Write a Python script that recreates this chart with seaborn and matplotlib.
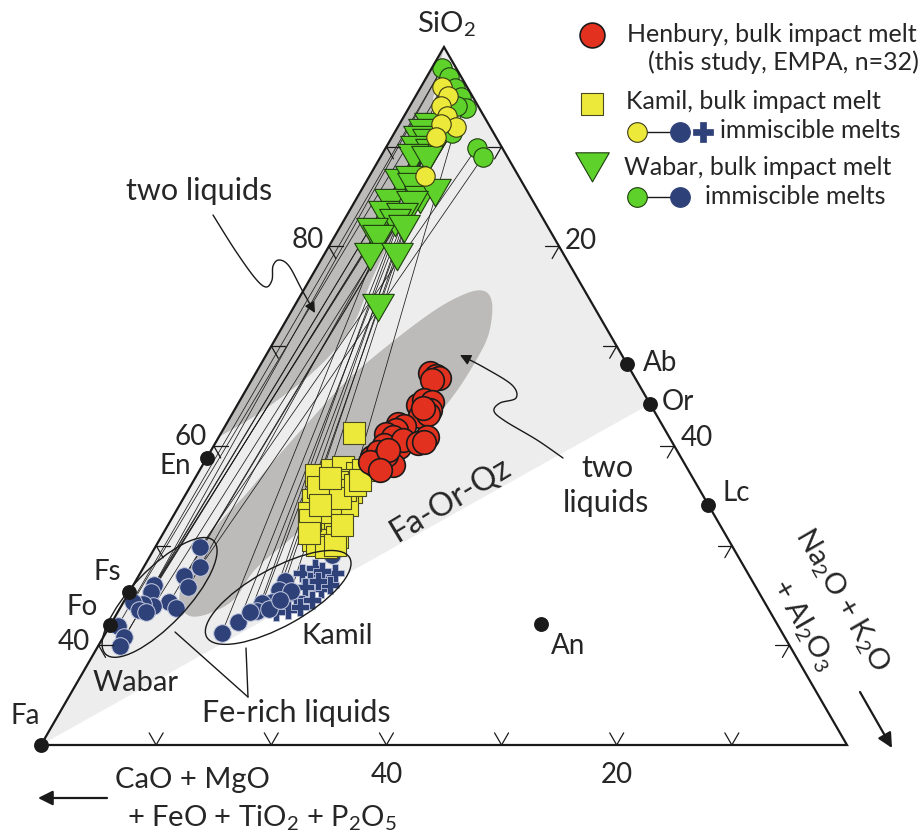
import numpy as np
import pandas as pd
import matplotlib
matplotlib.use("Agg")
import matplotlib.pyplot as plt
import seaborn as sns
from matplotlib.path import Path
from matplotlib.markers import MarkerStyle
from matplotlib.patches import Polygon, Ellipse

# ---------------- data: wt% SiO2 and wt% (Na2O+K2O+Al2O3) ----------------
henbury_sio2 = [67.3, 67.0, 66.8, 66.6, 64.1, 64.6, 64.4, 63.6, 63.0, 63.2, 63.8,
                62.2, 62.0, 61.6, 61.2, 60.4, 59.9, 60.9, 60.1, 60.6, 60.9, 60.3,
                60.4, 58.9, 58.1, 58.4, 58.1, 59.4, 59.1, 58.4, 59.6, 57.6]
henbury_alk = [15.1, 15.8, 16.2, 15.7, 15.7, 16.0, 16.8, 17.0, 16.4, 17.0, 16.3,
               14.9, 15.5, 15.0, 14.4, 15.1, 16.1, 15.1, 14.7, 16.1, 18.1, 17.6,
               18.1, 14.3, 15.0, 15.4, 16.5, 14.6, 15.4, 14.4, 15.3, 15.6]

kamil_sio2 = [61.3, 57.1, 57.6, 57.9, 57.3, 57.6, 56.6, 55.4, 56.4, 55.6, 54.6, 54.4,
              52.9, 53.3, 51.9, 51.6, 51.9, 50.6, 54.1, 53.3, 50.6, 50.9, 55.9, 55.6,
              53.4, 50.1, 49.9, 54.8, 56.1, 52.6, 54.1, 50.1, 56.6, 52.1, 51.3, 56.8]
kamil_alk = [11.5, 10.3, 11.5, 12.3, 13.8, 14.2, 13.6, 14.2, 12.5, 12.1, 11.3, 13.1,
             13.0, 14.3, 12.6, 13.7, 14.6, 13.3, 14.5, 11.6, 14.6, 15.3, 11.1, 13.6,
             13.4, 13.9, 14.8, 13.6, 14.2, 12.1, 12.2, 15.5, 14.4, 15.1, 12.6, 11.7]

wabar_sio2 = [92.5, 91.9, 91.2, 90.9, 90.2, 89.9, 89.4, 89.2, 86.9, 87.2, 86.5, 85.2,
              85.9, 84.9, 84.7, 83.7, 83.5, 82.9, 82.2, 81.9, 81.2, 79.4, 79.4, 74.3]
wabar_alk = [2.5, 2.3, 2.2, 3.2, 2.5, 3.9, 2.6, 3.9, 2.7, 3.5, 4.1, 5.3,
             6.3, 2.9, 4.9, 2.9, 4.6, 4.3, 5.4, 2.8, 3.7, 3.9, 6.2, 7.1]

# immiscible melts: Si-rich
wabar_si_sio2 = [97.9, 97.0, 95.9, 95.0, 93.9, 94.1, 91.4, 89.9, 89.0, 92.5]
wabar_si_alk = [0.9, 1.9, 3.0, 4.0, 5.0, 4.1, 5.0, 7.9, 8.9, 3.8]
kamil_si_sio2 = [96.0, 95.1, 94.1, 93.1, 92.0, 92.3, 91.0, 87.1]
kamil_si_alk = [1.8, 2.8, 2.7, 3.7, 5.0, 3.6, 3.8, 4.8]

# immiscible melts: Fe-rich
wabar_fe_sio2 = [49.9, 47.9, 46.9, 45.8, 44.3, 43.7, 46.0, 45.3, 43.9, 44.1, 44.3,
                 43.5, 41.9, 40.8, 39.9, 43.3]
wabar_fe_alk = [3.9, 4.9, 4.0, 4.9, 4.0, 4.9, 1.8, 1.9, 2.8, 1.8, 0.8, 1.8, 0.7,
                1.8, 1.9, 2.5]
kamil_fe_sio2 = [49.1, 46.4, 45.5, 45.4, 44.3, 44.2, 43.4, 43.6, 42.3, 41.2, 43.3, 44.5]
kamil_fe_alk = [15.7, 13.0, 12.9, 14.0, 12.9, 12.1, 12.1, 13.0, 11.0, 10.1, 11.5, 13.5]
kamil_cross_sio2 = [47.2, 47.8, 46.4, 46.8, 47.2, 45.6, 45.8, 44.7, 44.5, 43.5, 43.3,
                    43.8, 47.4, 46.0, 46.4]
kamil_cross_alk = [14.1, 14.9, 15.2, 16.4, 16.9, 16.5, 15.0, 14.8, 16.3, 14.7, 13.8,
                   15.6, 15.7, 17.1, 15.9]

# tie lines (Si-rich index, Fe-rich index)
wabar_ties = [(0, 12), (1, 10), (2, 6), (3, 7), (4, 2), (5, 9), (6, 4), (7, 0),
              (8, 1), (9, 13), (0, 14), (2, 11), (5, 3), (6, 8)]
kamil_ties = [(0, 9), (1, 8), (2, 6), (3, 5), (4, 0), (5, 10), (6, 1), (7, 3),
              (1, 4), (3, 2)]

# reference minerals
mineral_names = ["Fa", "Fo", "Fs", "En", "Ab", "Or", "Lc", "An"]
mineral_sio2 = [30.0, 42.0, 45.3, 58.8, 68.2, 64.2, 54.1, 42.1]
mineral_alk = [0.0, 0.0, 0.0, 0.0, 31.8, 35.8, 45.9, 37.4]

# fields
light_sio2 = [30.0, 64.2, 100.0]
light_alk = [0.0, 35.8, 0.0]
band_sio2 = [100.0, 96.7, 89.7, 84.7, 80.7, 76.6, 72.6, 69.6, 67.1, 65.1, 62.9, 60.9]
band_alk = [0.0, 1.0, 3.4, 4.5, 5.0, 5.4, 6.0, 5.7, 4.8, 3.6, 2.0, 0.0]
blob_sio2 = [73.6, 71.1, 68.8, 65.9, 63.3, 60.6, 58.1, 55.6, 53.3, 50.6, 47.6, 44.7,
             43.3, 42.9, 44.0, 46.0, 48.6, 52.1, 55.1, 58.6, 62.6, 66.8, 70.6, 73.6,
             75.1, 75.6, 75.1]
blob_alk = [17.4, 18.3, 18.5, 18.4, 18.0, 17.4, 15.8, 14.1, 12.6, 11.3, 9.8, 9.5,
            8.2, 6.6, 5.1, 4.2, 4.1, 4.3, 5.2, 6.0, 7.1, 8.4, 10.4, 12.4, 14.0, 15.3, 16.4]

# group ellipses (centre SiO2, centre alk, length, width, angle)
wabar_ell = (44.8, 2.9, 13.6, 4.8, 46.5)
kamil_ell = (44.8, 13.2, 14.2, 5.0, 29.0)

# axes ticks
sio2_ticks = [40, 50, 60, 70, 80, 90]
alk_ticks = [10, 20, 30, 40, 50, 60]
cmf_ticks = [10, 20, 30, 40, 50, 60]

# ---------------- styling ----------------
sns.set_theme(style="white")
plt.rcParams['font.family'] = ['Lato', 'DejaVu Sans']
plt.rcParams['mathtext.fontset'] = 'custom'
plt.rcParams['mathtext.rm'] = 'Lato'
plt.rcParams['mathtext.it'] = 'Lato:italic'
plt.rcParams['mathtext.bf'] = 'Lato:bold'

RED, YEL, GRN, BLU = '#e2321f', '#ece93b', '#5ed12b', '#2f4179'
LIGHT, DARK = '#ecedec', '#bcbbba'

SQ3 = np.sqrt(3) / 2


def tern(s, a):
    s = np.asarray(s, float)
    a = np.asarray(a, float)
    return a + s / 2, s * SQ3


fig = plt.figure(figsize=(9.21, 8.32), dpi=100)
fig.patch.set_facecolor('white')
ax = fig.add_axes([0, 0, 1, 1])
K = 11.514
X0 = 15 - 41 / K
Y0 = 30 * SQ3 - 87 / K
ax.set_xlim(X0, X0 + 921 / K)
ax.set_ylim(Y0, Y0 + 832 / K)
ax.axis('off')


def PX(px, py):
    return X0 + px / K, Y0 + (832 - py) / K


def catmull(pts, n=16, closed=False):
    pts = np.asarray(pts, float)
    if closed:
        P = np.vstack([pts[-1], pts, pts[0], pts[1]])
        rng = range(1, len(pts) + 1)
    else:
        P = np.vstack([pts[0], pts, pts[-1]])
        rng = range(1, len(P) - 2)
    out = []
    t = np.linspace(0, 1, n, endpoint=False)[:, None]
    for i in rng:
        p0, p1, p2, p3 = P[i - 1], P[i], P[i + 1], P[i + 2]
        out.append(0.5 * ((2 * p1) + (-p0 + p2) * t + (2 * p0 - 5 * p1 + 4 * p2 - p3) * t ** 2
                          + (-p0 + 3 * p1 - 3 * p2 + p3) * t ** 3))
    if not closed:
        out.append(P[-2][None, :])
    return np.vstack(out)


# fields
lx, ly = tern(light_sio2, light_alk)
ax.add_patch(Polygon(np.c_[lx, ly], closed=True, fc=LIGHT, ec='none', zorder=1))
bx, by = tern(band_sio2, band_alk)
ax.add_patch(Polygon(catmull(np.c_[bx, by]), closed=True, fc=DARK, ec='none', zorder=2))
gx, gy = tern(blob_sio2, blob_alk)
ax.add_patch(Polygon(catmull(np.c_[gx, gy], closed=True), closed=True, fc=DARK, ec='none', zorder=2))

# tie lines
wsx, wsy = tern(wabar_si_sio2, wabar_si_alk)
wfx, wfy = tern(wabar_fe_sio2, wabar_fe_alk)
ksx, ksy = tern(kamil_si_sio2, kamil_si_alk)
kfx, kfy = tern(kamil_fe_sio2, kamil_fe_alk)
for i, j in wabar_ties:
    ax.plot([wsx[i], wfx[j]], [wsy[i], wfy[j]], color='k', lw=0.55, zorder=3)
for i, j in kamil_ties:
    ax.plot([ksx[i], kfx[j]], [ksy[i], kfy[j]], color='k', lw=0.55, zorder=3)


def sc(x, y, **kw):
    sns.scatterplot(x=np.asarray(x), y=np.asarray(y), ax=ax, legend=False, **kw)


tri = MarkerStyle(Path([(-1, 0.57735), (1, 0.57735), (0, -1.1547), (-1, 0.57735)], closed=True))

cx, cy = tern(kamil_cross_sio2, kamil_cross_alk)
sc(cx, cy, marker='P', s=165, color=BLU, edgecolor='#b9c0da', linewidth=0.6, zorder=4)
sc(kfx, kfy, marker='o', s=160, color=BLU, edgecolor='#c5cbe0', linewidth=0.7, zorder=4)
sc(wfx, wfy, marker='o', s=160, color=BLU, edgecolor='#c5cbe0', linewidth=0.7, zorder=4)

x, y = tern(kamil_sio2, kamil_alk)
sc(x, y, marker='s', s=260, color=YEL, edgecolor='#4a4a20', linewidth=0.8, zorder=5)
x, y = tern(henbury_sio2, henbury_alk)
sc(x, y, marker='o', s=290, color=RED, edgecolor='k', linewidth=1.2, zorder=6)
x, y = tern(wabar_sio2, wabar_alk)
sc(x, y, marker=tri, s=690, color=GRN, edgecolor='#1f3d10', linewidth=0.8, zorder=7)
sc(wsx, wsy, marker='o', s=195, color=GRN, edgecolor='#1f3d10', linewidth=0.8, zorder=8)
sc(ksx, ksy, marker='o', s=195, color=YEL, edgecolor='#3a3a15', linewidth=0.8, zorder=9)

# group ellipses
for (s0, a0, L, W, ang) in (wabar_ell, kamil_ell):
    ex, ey = tern(s0, a0)
    ax.add_patch(Ellipse((float(ex), float(ey)), L, W, angle=ang, fc='none', ec='k', lw=1.0, zorder=10))

# triangle frame
fx, fy = tern([30, 100, 30, 30], [0, 0, 70, 0])
ax.plot(fx, fy, color='k', lw=1.6, zorder=11, solid_joinstyle='miter')

# ticks
TL = 14 / K
for s in sio2_ticks:
    x0, y0 = tern(s, 0)
    ax.plot([x0, x0 + TL], [y0, y0], color='k', lw=0.9, zorder=11)
    ax.plot([x0, x0 + TL * 0.5], [y0, y0 - TL * SQ3], color='k', lw=0.9, zorder=11)
for a in alk_ticks:
    x0, y0 = tern(100 - a, a)
    ax.plot([x0, x0 - TL], [y0, y0], color='k', lw=0.9, zorder=11)
    ax.plot([x0, x0 - TL * 0.5], [y0, y0 - TL * SQ3], color='k', lw=0.9, zorder=11)
for b in cmf_ticks:
    x0, y0 = tern(30, 70 - b)
    ax.plot([x0, x0 - TL * 0.5], [y0, y0 + TL * SQ3], color='k', lw=0.9, zorder=11)
    ax.plot([x0, x0 + TL * 0.5], [y0, y0 + TL * SQ3], color='k', lw=0.9, zorder=11)

# mineral points
mx, my = tern(mineral_sio2, mineral_alk)
sc(mx, my, marker='o', s=115, color='k', edgecolor='k', linewidth=0, zorder=12)

FS_T = 20
mineral_label_px = [(25, 716), (82, 607), (107, 572), (175, 466), (660, 363), (678, 402),
                    (736, 493), (568, 646)]
for name, (px, py) in zip(mineral_names, mineral_label_px):
    ax.text(*PX(px, py), name, fontsize=FS_T, ha='center', va='center', zorder=13)

# tick labels
for v, (px, py) in zip([40, 60, 80], [(74, 642), (191, 437), (308, 240)]):
    ax.text(*PX(px, py), str(v), fontsize=FS_T, ha='center', va='center')
for v, (px, py) in zip([20, 40], [(581, 241), (697, 438)]):
    ax.text(*PX(px, py), str(v), fontsize=FS_T, ha='center', va='center')
for v, (px, py) in zip([40, 20], [(387, 775), (617, 775)]):
    ax.text(*PX(px, py), str(v), fontsize=FS_T, ha='center', va='center')

# axis titles
FS_L = 21
ax.text(*PX(446, 24), 'SiO$_2$', fontsize=FS_L, ha='center', va='center')
ax.text(*PX(192, 780), 'CaO + MgO', fontsize=FS_L, ha='center', va='center')
ax.text(*PX(262, 818), '+ FeO + TiO$_2$ + P$_2$O$_5$', fontsize=FS_L, ha='center', va='center')
ax.annotate('', xy=PX(38, 798), xytext=PX(107, 798),
            arrowprops=dict(arrowstyle='-|>', color='k', lw=1.6, mutation_scale=22,
                            shrinkA=0, shrinkB=0))
ax.text(*PX(842, 600), 'Na$_2$O + K$_2$O', fontsize=FS_L, ha='center', va='center',
        rotation=-60, rotation_mode='anchor')
ax.text(*PX(803, 625), '+ Al$_2$O$_3$', fontsize=FS_L, ha='center', va='center',
        rotation=-60, rotation_mode='anchor')
ax.annotate('', xy=PX(892, 748), xytext=PX(860, 692),
            arrowprops=dict(arrowstyle='-|>', color='k', lw=1.6, mutation_scale=22,
                            shrinkA=0, shrinkB=0))

# field labels and annotations
FS_A = 22
ax.text(*PX(199, 191), 'two liquids', fontsize=FS_A, ha='center', va='center')
ax.text(*PX(607, 468), 'two', fontsize=FS_A, ha='center', va='center')
ax.text(*PX(606, 503), 'liquids', fontsize=FS_A, ha='center', va='center')
ax.text(*PX(450, 500), 'Fa-Or-Qz', fontsize=FS_A + 1, ha='center', va='center', rotation=31,
        rotation_mode='anchor')
ax.text(*PX(136, 683), 'Wabar', fontsize=FS_A - 1, ha='center', va='center')
ax.text(*PX(337, 636), 'Kamil', fontsize=FS_A - 1, ha='center', va='center')
ax.text(*PX(296, 713), 'Fe-rich liquids', fontsize=FS_A, ha='center', va='center')


def curve_arrow(pts_px):
    pts = np.array([PX(px, py) for px, py in pts_px])
    c = catmull(pts, n=12)
    ax.plot(c[:-3, 0], c[:-3, 1], color='k', lw=1.0, zorder=14)
    ax.annotate('', xy=tuple(c[-1]), xytext=tuple(c[-4]),
                arrowprops=dict(arrowstyle='-|>', color='k', lw=1.0, mutation_scale=16,
                                shrinkA=0, shrinkB=0), zorder=14)


curve_arrow([(213, 215), (235, 250), (255, 278), (266, 287), (272, 280), (273, 266),
             (279, 260), (289, 266), (302, 290), (315, 313)])
curve_arrow([(563, 458), (537, 440), (505, 421), (494, 411), (500, 403), (516, 398),
             (512, 385), (485, 368), (460, 355)])

for p_end in [(175, 632), (246, 648)]:
    p0 = PX(248, 697)
    p1 = PX(*p_end)
    ax.plot([p0[0], p1[0]], [p0[1], p1[1]], color='k', lw=1.0, zorder=14)

# legend
FS_G = 18
sc([PX(592, 35)[0]], [PX(592, 35)[1]], marker='o', s=320, color=RED, edgecolor='k',
   linewidth=1.2, zorder=15)
ax.text(*PX(627, 35), 'Henbury, bulk impact melt', fontsize=FS_G, ha='left', va='center')
ax.text(*PX(648, 62), '(this study, EMPA, n=32)', fontsize=FS_G, ha='left', va='center')
sc([PX(592, 104)[0]], [PX(592, 104)[1]], marker='s', s=270, color=YEL, edgecolor='#4a4a20',
   linewidth=0.8, zorder=15)
ax.text(*PX(626, 102), 'Kamil, bulk impact melt', fontsize=FS_G, ha='left', va='center')
l0, l1 = PX(637, 132), PX(680, 132)
ax.plot([l0[0], l1[0]], [l0[1], l1[1]], color='k', lw=1.0, zorder=14)
sc([l0[0]], [l0[1]], marker='o', s=200, color=YEL, edgecolor='#3a3a15', linewidth=0.8, zorder=15)
sc([l1[0]], [l1[1]], marker='o', s=200, color=BLU, edgecolor=BLU, linewidth=0.8, zorder=15)
pp = PX(703, 132)
sc([pp[0]], [pp[1]], marker='P', s=190, color=BLU, edgecolor=BLU, linewidth=0.5, zorder=15)
ax.text(*PX(720, 131), 'immiscible melts', fontsize=FS_G, ha='left', va='center')
tp = PX(592, 162)
sc([tp[0]], [tp[1]], marker=tri, s=780, color=GRN, edgecolor='#1f3d10', linewidth=0.8, zorder=15)
ax.text(*PX(624, 168), 'Wabar, bulk impact melt', fontsize=FS_G, ha='left', va='center')
l0, l1 = PX(637, 197), PX(680, 197)
ax.plot([l0[0], l1[0]], [l0[1], l1[1]], color='k', lw=1.0, zorder=14)
sc([l0[0]], [l0[1]], marker='o', s=200, color=GRN, edgecolor='#1f3d10', linewidth=0.8, zorder=15)
sc([l1[0]], [l1[1]], marker='o', s=200, color=BLU, edgecolor=BLU, linewidth=0.8, zorder=15)
ax.text(*PX(705, 197), 'immiscible melts', fontsize=FS_G, ha='left', va='center')

ax.set_xlim(X0, X0 + 921 / K)
ax.set_ylim(Y0, Y0 + 832 / K)
fig.savefig('out.png', dpi=100, facecolor='white')
